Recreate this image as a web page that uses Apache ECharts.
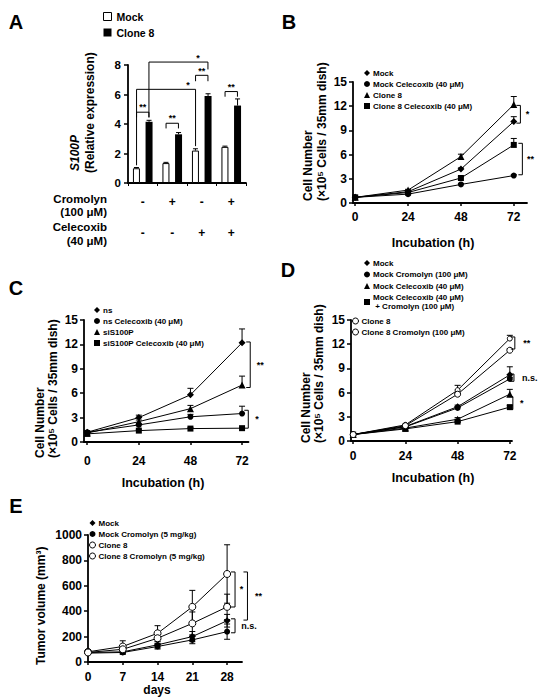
<!DOCTYPE html>
<html><head><meta charset="utf-8">
<script src="https://cdn.jsdelivr.net/npm/echarts@6/dist/echarts.min.js"></script>
<style>html,body{margin:0;padding:0;background:#fff}#c{width:543px;height:698px}</style>
</head><body><div id="c"></div>
<script>
// ---------- shared x values ----------
const hours = [0, 24, 48, 72];
const days = [0, 7, 14, 21, 28];

// ---------- Panel A ----------
const aGroups = ['G1', 'G2', 'G3', 'G4'];
const cromolynSigns = ['-', '+', '-', '+'];
const celecoxibSigns = ['-', '-', '+', '+'];
const aMock = [1.0, 1.35, 2.2, 2.45];
const aMockErr = [0.05, 0.05, 0.12, 0.05];
const aClone8 = [4.15, 3.3, 5.9, 5.25];
const aClone8Err = [0.1, 0.12, 0.15, 0.45];
// [fromPos, toPos, y, legFromY, legToY, label, labelPos, labelY]
const aBrackets = [
  [-0.21, 0.21, 4.8, 4.45, 4.45, '**', 0, 5.15],
  [0.79, 1.21, 4.05, 3.7, 3.7, '**', 1, 4.4],
  [1.79, 2.21, 7.3, 6.9, 6.9, '**', 2, 7.6],
  [2.79, 3.21, 6.2, 5.85, 5.85, '**', 3, 6.5],
  [-0.21, 1.79, 6.35, 1.2, 2.5, '*', 1.53, 6.65],
  [0.21, 2.21, 8.2, 4.45, 7.7, '*', 1.87, 8.5]
];

// ---------- Panel B ----------
const bNames = ['Mock', 'Mock Celecoxib (40 μM)', 'Clone 8', 'Clone 8 Celecoxib (40 μM)'];
const bMock = [0.7, 1.4, 4.2, 10.1];
const bMockErr = [0, 0.1, 0.15, 0.6];
const bMockCel = [0.7, 1.1, 2.3, 3.4];
const bMockCelErr = [0, 0.1, 0.1, 0.1];
const bClone8 = [0.7, 1.6, 5.75, 12.2];
const bClone8Err = [0, 0.1, 0.3, 1.0];
const bClone8Cel = [0.7, 1.3, 3.1, 7.2];
const bClone8CelErr = [0, 0.1, 0.2, 0.8];
const bBrackets = [[75, 12.1, 9.9, '*', 78.2], [75.9, 7.4, 3.5, '**', 79.6]];

// ---------- Panel C ----------
const cNames = ['ns', 'ns Celecoxib (40 μM)', 'siS100P', 'siS100P Celecoxib (40 μM)'];
const cNs = [1.2, 3.0, 5.8, 12.2];
const cNsErr = [0.2, 0.3, 0.8, 1.7];
const cNsCel = [1.2, 2.1, 3.1, 3.5];
const cNsCelErr = [0.1, 0.2, 0.3, 0.9];
const cSi = [1.1, 2.5, 4.1, 7.0];
const cSiErr = [0.1, 0.2, 0.4, 1.1];
const cSiCel = [1.0, 1.4, 1.65, 1.7];
const cSiCelErr = [0.1, 0.1, 0.1, 0.1];
const cBrackets = [[75.8, 12.3, 6.7, '**', 80.5], [74.9, 3.9, 1.7, '*', 79]];

// ---------- Panel D ----------
const dNames = ['Mock', 'Mock Cromolyn (100 μM)', 'Mock Celecoxib (40 μM)',
  'Mock Celecoxib (40 μM) + Cromolyn (100 μM)', 'Clone 8', 'Clone 8 Cromolyn (100 μM)'];
const dMock = [0.8, 1.8, 4.25, 8.2];
const dMockErr = [0, 0.1, 0.2, 1.0];
const dMockCrom = [0.8, 1.75, 4.1, 7.7];
const dMockCromErr = [0, 0.1, 0.1, 0.2];
const dMockCel = [0.8, 1.6, 2.7, 5.8];
const dMockCelErr = [0, 0.1, 0.2, 0.6];
const dMockCelCrom = [0.8, 1.5, 2.4, 4.2];
const dMockCelCromErr = [0, 0.05, 0.1, 0.2];
const dClone8 = [0.8, 2.0, 6.3, 12.7];
const dClone8Err = [0, 0.1, 0.6, 0.4];
const dClone8Crom = [0.8, 1.9, 5.8, 11.25];
const dClone8CromErr = [0, 0.1, 0.2, 0.2];
const dBrackets = [[74.3, 12.9, 11.4, '**', 79.8], [73.9, 8.3, 7.4, 'n.s.', 81.2], [73.4, 5.5, 3.9, '*', 77.5]];

// ---------- Panel E ----------
const eNames = ['Mock', 'Mock Cromolyn (5 mg/kg)', 'Clone 8', 'Clone 8 Cromolyn (5 mg/kg)'];
const eMock = [75, 80, 135, 200, 325];
const eMockErr = [10, 15, 25, 40, 50];
const eMockCrom = [70, 75, 122, 174, 239];
const eMockCromErr = [10, 15, 20, 30, 60];
const eClone8 = [80, 122, 226, 434, 693];
const eClone8Err = [15, 45, 60, 130, 230];
const eClone8Crom = [75, 100, 187, 304, 434];
const eClone8CromErr = [10, 30, 40, 90, 100];
const eBrackets = [[29.6, 709, 433, '*', 30.9], [32.1, 709, 330, '**', 34.3], [29.6, 340, 230, 'n.s.', 32.4]];

// ---------- helpers ----------
const FONT = '"Liberation Sans", Arial, sans-serif';
const K = '#000';
const BAR_W = 7;
const strip = n => n.split('|')[1];
const hollow = {color: '#fff', borderColor: K, borderWidth: 1};
const solid = {color: K, borderWidth: 0};

function lineSeries(name, xs, ys, symbol, gi, isHollow, size) {
  return {
    type: 'line', name, xAxisIndex: gi, yAxisIndex: gi,
    data: xs.map((x, i) => [x, ys[i]]),
    symbol, symbolSize: size || 6, showSymbol: true,
    lineStyle: {color: K, width: 1},
    itemStyle: isHollow ? hollow : {color: K},
    z: 3, emphasis: {disabled: true}
  };
}

function errSeries(gi, xs, list, both) {
  const data = [];
  list.forEach(([ys, es]) => xs.forEach((x, i) => { if (es[i] > 0) data.push([x, ys[i], es[i]]); }));
  return {
    type: 'custom', xAxisIndex: gi, yAxisIndex: gi, data, clip: false, z: 2, silent: true,
    renderItem(params, api) {
      const x = api.value(0), y = api.value(1), e = api.value(2);
      const p = api.coord([x, y]), t = api.coord([x, y + e]);
      const b = both ? api.coord([x, y - e]) : p;
      const w = 3, st = {stroke: K, lineWidth: 1};
      const ch = [
        {type: 'line', shape: {x1: p[0], y1: b[1], x2: p[0], y2: t[1]}, style: st},
        {type: 'line', shape: {x1: p[0] - w, y1: t[1], x2: p[0] + w, y2: t[1]}, style: st}
      ];
      if (both) ch.push({type: 'line', shape: {x1: p[0] - w, y1: b[1], x2: p[0] + w, y2: b[1]}, style: st});
      return {type: 'group', children: ch};
    }
  };
}

function bracketSeries(gi, list) {
  return {
    type: 'custom', xAxisIndex: gi, yAxisIndex: gi, clip: false, silent: true, z: 4,
    data: list.map(b => [b[0], b[1], b[2]]),
    renderItem(params, api) {
      const b = list[params.dataIndex];
      const p1 = api.coord([b[0], b[1]]), p2 = api.coord([b[0], b[2]]);
      const lp = api.coord([b[4], (b[1] + b[2]) / 2]);
      const st = {stroke: K, lineWidth: 1};
      return {type: 'group', children: [
        {type: 'line', shape: {x1: p1[0] - 4, y1: p1[1], x2: p1[0], y2: p1[1]}, style: st},
        {type: 'line', shape: {x1: p1[0], y1: p1[1], x2: p2[0], y2: p2[1]}, style: st},
        {type: 'line', shape: {x1: p2[0] - 4, y1: p2[1], x2: p2[0], y2: p2[1]}, style: st},
        {type: 'text', x: lp[0], y: lp[1], style: {text: b[3], textAlign: 'center', textVerticalAlign: 'middle', font: 'bold 9px ' + FONT, fill: K}}
      ]};
    }
  };
}

function aErrSeries(vals, errs, side) {
  return {
    type: 'custom', xAxisIndex: 0, yAxisIndex: 0, clip: false, silent: true, z: 3,
    data: vals.map((v, i) => [i, v, errs[i]]),
    renderItem(params, api) {
      const i = api.value(0), v = api.value(1), e = api.value(2);
      const off = side * (BAR_W * 1.8) / 2;
      const p = api.coord([i, v]), t = api.coord([i, v + e]);
      const x = p[0] + off, st = {stroke: K, lineWidth: 1};
      return {type: 'group', children: [
        {type: 'line', shape: {x1: x, y1: p[1], x2: x, y2: t[1]}, style: st},
        {type: 'line', shape: {x1: x - 2.5, y1: t[1], x2: x + 2.5, y2: t[1]}, style: st}
      ]};
    }
  };
}

function aBracketSeries() {
  return {
    type: 'custom', xAxisIndex: 0, yAxisIndex: 0, clip: false, silent: true, z: 4,
    data: aBrackets.map(b => [0, b[2]]),
    renderItem(params, api) {
      const b = aBrackets[params.dataIndex];
      const x0 = api.coord([0, 0])[0], band = api.size([1, 0])[0];
      const px = pos => x0 + pos * band;
      const py = v => api.coord([0, v])[1];
      const st = {stroke: K, lineWidth: 1};
      return {type: 'group', children: [
        {type: 'line', shape: {x1: px(b[0]), y1: py(b[3]), x2: px(b[0]), y2: py(b[2])}, style: st},
        {type: 'line', shape: {x1: px(b[0]), y1: py(b[2]), x2: px(b[1]), y2: py(b[2])}, style: st},
        {type: 'line', shape: {x1: px(b[1]), y1: py(b[2]), x2: px(b[1]), y2: py(b[4])}, style: st},
        {type: 'text', x: px(b[6]), y: py(b[7]), style: {text: b[5], textAlign: 'center', textVerticalAlign: 'middle', font: 'bold 9px ' + FONT, fill: K}}
      ]};
    }
  };
}

const axisLine = {show: true, onZero: false, lineStyle: {color: K, width: 1.8}};
const axisTick = {show: true, length: 4, lineStyle: {color: K, width: 1.5}};
const tickFont = {color: K, fontSize: 12, fontWeight: 'bold', fontFamily: FONT};

function xVal(gi, min, max, ticks, margin) {
  return {type: 'value', gridIndex: gi, min, max, splitLine: {show: false}, axisLine,
    axisTick: Object.assign({}, axisTick, {length: 3, customValues: ticks}),
    axisLabel: Object.assign({}, tickFont, {customValues: ticks, margin: margin})};
}
function yVal(gi, min, max, interval) {
  return {type: 'value', gridIndex: gi, min, max, interval, splitLine: {show: false}, axisLine, axisTick,
    axisLabel: Object.assign({}, tickFont, {margin: 6, formatter: v => String(v)})};
}

function legend(left, top, items, opts) {
  return Object.assign({
    left, top, orient: 'vertical', padding: 0, itemGap: 2, itemWidth: 6, itemHeight: 6,
    selectedMode: false, formatter: n => strip(n).replace(' + ', '\n + '),
    textStyle: {fontSize: 8, fontWeight: 'bold', fontFamily: FONT, color: K, lineHeight: 9, padding: [0, 0, 0, -2]},
    data: items
  }, opts || {});
}
const li = (name, icon, isHollow) => ({name, icon, itemStyle: isHollow ? hollow : solid});

function vText(text, x, y, font) {
  return {type: 'text', x, y, rotation: Math.PI / 2,
    style: {text, font: font || ('bold 12px ' + FONT), fill: K, textAlign: 'left', textVerticalAlign: 'middle'}};
}
function hText(text, x, y, align, font) {
  return {type: 'text', x, y,
    style: {text, font: font || ('bold 12.5px ' + FONT), fill: K, textAlign: align || 'center', textVerticalAlign: 'middle'}};
}
const letterFont = 'bold 20px ' + FONT;

const option = {
  animation: false,
  backgroundColor: '#fff',
  grid: [
    {left: 128, top: 65, width: 118, height: 118},
    {left: 353, top: 82, width: 174, height: 121},
    {left: 84, top: 320, width: 164.5, height: 122},
    {left: 351, top: 320, width: 161, height: 121},
    {left: 88, top: 535, width: 154, height: 127}
  ],
  xAxis: [
    {type: 'category', gridIndex: 0, data: aGroups, axisLine,
      axisTick: {show: true, length: 3, alignWithLabel: false, lineStyle: {color: K, width: 1}},
      axisLabel: {color: K, fontSize: 12, fontWeight: 'bold', fontFamily: FONT, margin: 14, lineHeight: 10.3,
        formatter: (v, i) => cromolynSigns[i] + '\n\n\n' + celecoxibSigns[i]}},
    xVal(1, -1, 78, hours, 8),
    xVal(2, -1.5, 75, hours, 13),
    xVal(3, -1, 73, hours, 9),
    xVal(4, 0, 31, days, 9)
  ],
  yAxis: [
    Object.assign(yVal(0, 0, 8, 2), {axisLabel: Object.assign({}, tickFont, {margin: 7, fontSize: 11.5})}),
    yVal(1, 0, 15, 3),
    yVal(2, 0, 15, 3),
    yVal(3, 0, 15, 3),
    yVal(4, 0, 1000, 200)
  ],
  legend: [
    legend(103, 11, [li('A|Mock', 'rect', true), li('A|Clone 8', 'rect', false)],
      {itemGap: 5, itemWidth: 8, itemHeight: 8, textStyle: {fontSize: 10.5, fontWeight: 'bold', fontFamily: FONT, color: K, lineHeight: 10}}),
    legend(364, 68.5, [li('B|' + bNames[0], 'diamond'), li('B|' + bNames[1], 'circle'), li('B|' + bNames[2], 'triangle'), li('B|' + bNames[3], 'rect')]),
    legend(94, 305.5, [li('C|' + cNames[0], 'diamond'), li('C|' + cNames[1], 'circle'), li('C|' + cNames[2], 'triangle'), li('C|' + cNames[3], 'rect')]),
    legend(364, 258.5, [li('D|' + dNames[0], 'diamond'), li('D|' + dNames[1], 'circle'), li('D|' + dNames[2], 'triangle'), li('D|' + dNames[3], 'rect')], {itemGap: 2.5}),
    legend(352, 316.5, [li('D|' + dNames[4], 'circle', true), li('D|' + dNames[5], 'circle', true)]),
    legend(89, 518.5, [li('E|' + eNames[0], 'diamond'), li('E|' + eNames[1], 'circle'), li('E|' + eNames[2], 'circle', true), li('E|' + eNames[3], 'circle', true)])
  ],
  series: [
    {type: 'bar', name: 'A|Mock', xAxisIndex: 0, yAxisIndex: 0, data: aMock, barWidth: BAR_W, barGap: '80%',
      itemStyle: hollow, emphasis: {disabled: true}, z: 2},
    {type: 'bar', name: 'A|Clone 8', xAxisIndex: 0, yAxisIndex: 0, data: aClone8, barWidth: BAR_W,
      itemStyle: {color: K}, emphasis: {disabled: true}, z: 2},
    aErrSeries(aMock, aMockErr, -1),
    aErrSeries(aClone8, aClone8Err, 1),
    aBracketSeries(),

    errSeries(1, hours, [[bMock, bMockErr], [bMockCel, bMockCelErr], [bClone8, bClone8Err], [bClone8Cel, bClone8CelErr]], false),
    lineSeries('B|' + bNames[0], hours, bMock, 'diamond', 1, false, 7),
    lineSeries('B|' + bNames[1], hours, bMockCel, 'circle', 1),
    lineSeries('B|' + bNames[2], hours, bClone8, 'triangle', 1, false, 7),
    lineSeries('B|' + bNames[3], hours, bClone8Cel, 'rect', 1),
    bracketSeries(1, bBrackets),

    errSeries(2, hours, [[cNs, cNsErr], [cNsCel, cNsCelErr], [cSi, cSiErr], [cSiCel, cSiCelErr]], false),
    lineSeries('C|' + cNames[0], hours, cNs, 'diamond', 2, false, 7),
    lineSeries('C|' + cNames[1], hours, cNsCel, 'circle', 2),
    lineSeries('C|' + cNames[2], hours, cSi, 'triangle', 2, false, 7),
    lineSeries('C|' + cNames[3], hours, cSiCel, 'rect', 2),
    bracketSeries(2, cBrackets),

    errSeries(3, hours, [[dMock, dMockErr], [dMockCrom, dMockCromErr], [dMockCel, dMockCelErr],
      [dMockCelCrom, dMockCelCromErr], [dClone8, dClone8Err], [dClone8Crom, dClone8CromErr]], false),
    lineSeries('D|' + dNames[0], hours, dMock, 'diamond', 3, false, 7),
    lineSeries('D|' + dNames[1], hours, dMockCrom, 'circle', 3),
    lineSeries('D|' + dNames[2], hours, dMockCel, 'triangle', 3, false, 7),
    lineSeries('D|' + dNames[3], hours, dMockCelCrom, 'rect', 3),
    lineSeries('D|' + dNames[4], hours, dClone8, 'circle', 3, true, 5),
    lineSeries('D|' + dNames[5], hours, dClone8Crom, 'circle', 3, true, 6),
    bracketSeries(3, dBrackets),

    errSeries(4, days, [[eMock, eMockErr], [eMockCrom, eMockCromErr], [eClone8, eClone8Err], [eClone8Crom, eClone8CromErr]], true),
    lineSeries('E|' + eNames[0], days, eMock, 'diamond', 4, false, 7),
    lineSeries('E|' + eNames[1], days, eMockCrom, 'circle', 4),
    lineSeries('E|' + eNames[2], days, eClone8, 'circle', 4, true, 7),
    lineSeries('E|' + eNames[3], days, eClone8Crom, 'circle', 4, true, 7),
    bracketSeries(4, eBrackets)
  ],
  graphic: [
    hText('A', 16, 22, 'center', letterFont),
    hText('B', 289, 22, 'center', letterFont),
    hText('C', 16, 288, 'center', letterFont),
    hText('D', 288, 270, 'center', letterFont),
    hText('E', 16, 506, 'center', letterFont),

    vText('S100P', 75, 171, 'italic bold 12px ' + FONT),
    vText('(Relative expression)', 90, 173),
    hText('Cromolyn', 107, 199, 'right', 'bold 11.5px ' + FONT),
    hText('(100 μM)', 107, 212, 'right', 'bold 11.5px ' + FONT),
    hText('Celecoxib', 107, 227, 'right', 'bold 11.5px ' + FONT),
    hText('(40 μM)', 107, 241, 'right', 'bold 11.5px ' + FONT),

    vText('Cell Number', 308, 201),
    vText('(×10⁵ Cells / 35mm dish)', 322, 201),
    hText('Incubation (h)', 433, 243),

    vText('Cell Number', 40, 458),
    vText('(×10⁵ Cells / 35mm dish)', 53, 458),
    hText('Incubation (h)', 163, 483),

    vText('Cell Number', 306, 443),
    vText('(×10⁵ Cells / 35mm dish)', 319, 443),
    hText('Incubation (h)', 433, 478),

    vText('Tumor volume (mm³)', 41, 665),
    hText('days', 157, 690, 'center', 'bold 12px ' + FONT)
  ]
};

const chart = echarts.init(document.getElementById('c'), null, {renderer: 'svg'});
chart.setOption(option);
</script>
</body></html>
